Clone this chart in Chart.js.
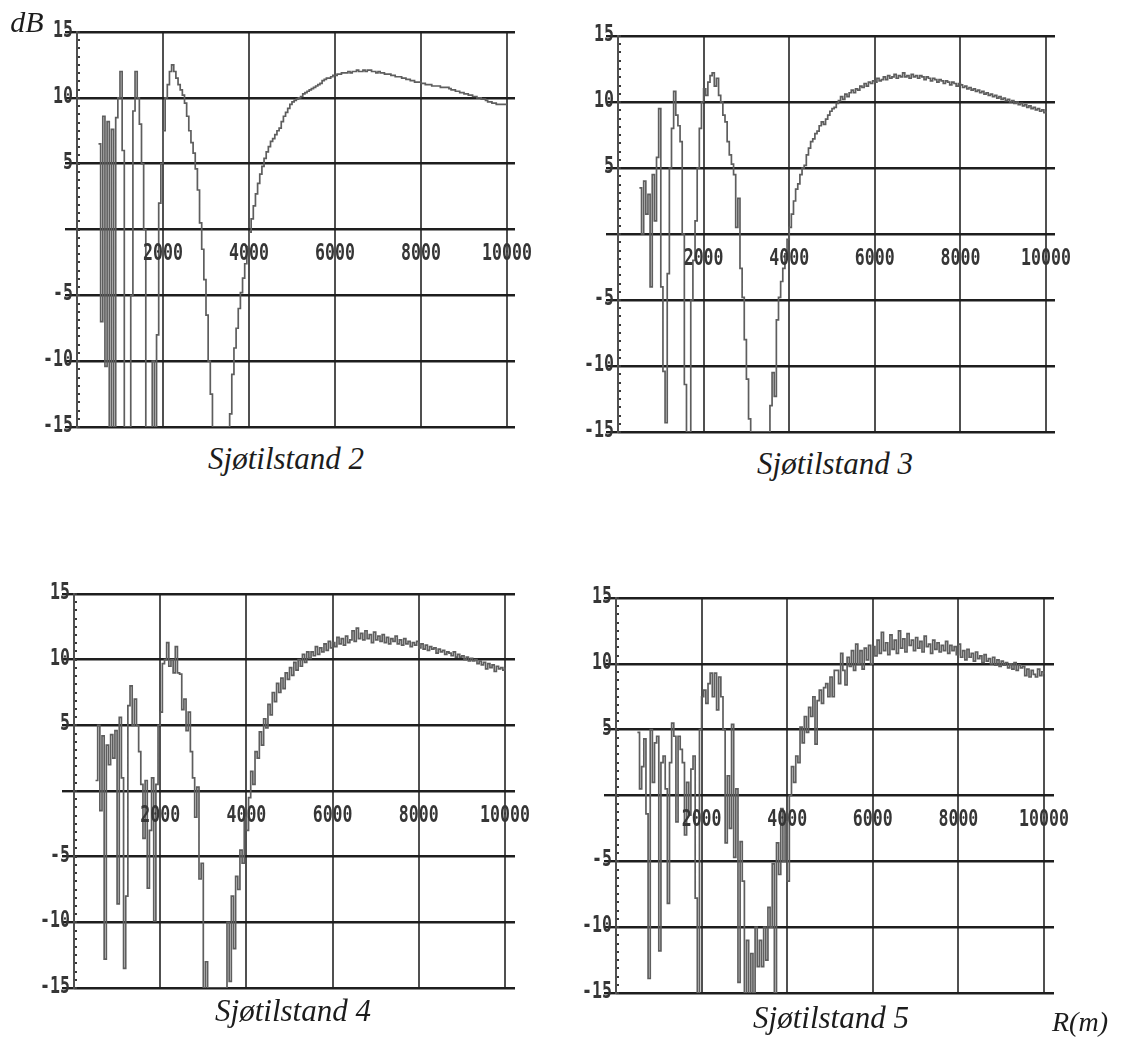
<!DOCTYPE html>
<html>
<head>
<meta charset="utf-8">
<script src="https://cdn.jsdelivr.net/npm/chart.js@4/dist/chart.umd.min.js"></script>
<style>
  html, body { margin: 0; padding: 0; background: #fff; }
  #page { position: relative; width: 1127px; height: 1037px; overflow: hidden; background: #fff; }
  canvas { position: absolute; }
  .cap { position: absolute; transform: translate(-50%, -50%); white-space: nowrap;
         font-family: "Liberation Serif", "DejaVu Serif", serif; font-style: italic; color: #1c1c1c; }
</style>
</head>
<body>
<div id="page"></div>
<script>
// Range in metres (50 m steps, 500 .. 10000)
const RANGE_M = [
  500,550,600,650,700,750,800,850,900,950,
  1000,1050,1100,1150,1200,1250,1300,1350,1400,1450,
  1500,1550,1600,1650,1700,1750,1800,1850,1900,1950,
  2000,2050,2100,2150,2200,2250,2300,2350,2400,2450,
  2500,2550,2600,2650,2700,2750,2800,2850,2900,2950,
  3000,3050,3100,3150,3200,3250,3300,3350,3400,3450,
  3500,3550,3600,3650,3700,3750,3800,3850,3900,3950,
  4000,4050,4100,4150,4200,4250,4300,4350,4400,4450,
  4500,4550,4600,4650,4700,4750,4800,4850,4900,4950,
  5000,5050,5100,5150,5200,5250,5300,5350,5400,5450,
  5500,5550,5600,5650,5700,5750,5800,5850,5900,5950,
  6000,6050,6100,6150,6200,6250,6300,6350,6400,6450,
  6500,6550,6600,6650,6700,6750,6800,6850,6900,6950,
  7000,7050,7100,7150,7200,7250,7300,7350,7400,7450,
  7500,7550,7600,7650,7700,7750,7800,7850,7900,7950,
  8000,8050,8100,8150,8200,8250,8300,8350,8400,8450,
  8500,8550,8600,8650,8700,8750,8800,8850,8900,8950,
  9000,9050,9100,9150,9200,9250,9300,9350,9400,9450,
  9500,9550,9600,9650,9700,9750,9800,9850,9900,9950,
  10000
];

// Level in dB for each sea state
const SEA_STATE_2 = [
  6.5,-7,8.6,-10.4,8.2,-15,7.6,-15,8.5,10,
  12,6,-15,-15,-15,-5,9,12,10,8,
  5,0,-15,-15,-15,-10,-15,-8,2,5,
  7.5,10,11,12,12.5,12,11.5,11,10.6,10.2,
  9.6,8.6,7.5,6.6,5.8,4.6,3,0.5,-1.5,-3.8,
  -6.5,-10,-12.5,-15,-15,-15,-15,-15,-15,-15,
  -15,-14,-11,-9,-7.5,-6,-4.8,-3.7,-2.6,-1.3,
  -0.2,0.8,1.8,2.7,3.5,4.2,4.8,5.4,5.9,6.3,
  6.7,6.9,7.2,7.5,7.7,8.2,8.6,8.9,9.2,9.5,
  9.7,9.8,9.9,10,10.1,10.3,10.4,10.5,10.6,10.7,
  10.8,10.9,11,11.1,11.3,11.4,11.5,11.5,11.6,11.7,
  11.7,11.8,11.8,11.9,11.9,11.9,12,11.9,12,12,
  12.1,12,12,12.1,12,12.1,12.1,12,12,11.9,
  12,11.9,11.9,11.8,11.8,11.8,11.7,11.7,11.6,11.6,
  11.6,11.5,11.5,11.4,11.4,11.3,11.3,11.2,11.2,11.2,
  11.1,11.1,11,11,11,10.9,10.9,10.9,10.9,10.8,
  10.8,10.8,10.8,10.7,10.6,10.6,10.5,10.5,10.4,10.4,
  10.3,10.3,10.2,10.2,10.1,10.1,10,10,9.9,9.9,
  9.8,9.7,9.7,9.6,9.6,9.5,9.5,9.5,9.5,9.5,
  9.5
];

const SEA_STATE_3 = [
  3.5,0,4,1.5,3,-4,4.5,1,5.8,9.5,
  -4,-10.4,-14.3,-3,5,8,10.8,9,8.2,7,
  0,-11.4,-15,-15,-5,-2,1,5,8,10,
  11,10.5,11.5,12,12.2,11.2,11.8,10.5,10,9,
  8.5,7,6,5.3,4.5,0.5,2.7,-2.6,-4.8,-8,
  -11,-14,-15,-15,-15,-15,-15,-15,-15,-15,
  -15,-13,-10.5,-12.3,-6.5,-4.8,-3.6,-2.6,-1.5,-0.4,
  0.5,1.5,2.5,3.4,3.8,4.5,5,5.2,6,6.5,
  7,7.2,7.6,7.8,8.2,8.5,8.3,8.7,9,9.3,
  9.5,9.6,9.9,10.1,10.4,10.2,10.6,10.4,10.7,10.9,
  10.7,11,10.9,11.2,11.1,11.4,11.2,11.5,11.4,11.6,
  11.5,11.8,11.6,11.7,11.9,11.7,12,11.8,11.9,12.1,
  11.8,12,11.9,12.2,11.9,12,11.8,12.1,11.9,12,
  11.8,12,11.9,11.7,11.9,11.8,11.6,11.8,11.7,11.5,
  11.7,11.6,11.4,11.6,11.5,11.3,11.5,11.4,11.2,11.4,
  11.3,11.1,11.2,11,11.1,10.9,11,10.8,10.9,10.7,
  10.8,10.6,10.7,10.5,10.6,10.4,10.5,10.3,10.4,10.2,
  10.3,10.1,10.2,10,10.1,9.9,10,9.8,9.9,9.7,
  9.8,9.6,9.7,9.5,9.6,9.4,9.5,9.3,9.4,9.2,
  9.3
];

const SEA_STATE_4 = [
  0.8,5,-1.5,4.2,-12.8,3.5,2,4.3,2.5,4.6,
  -8.6,5.6,1,-13.5,-8,6.5,8,5,7,5,
  3,0.5,-3.6,0.8,-7.4,-3,1,-9.9,0.5,5,
  6,9.7,10,11.3,9.5,10,9,11,9,8.9,
  6.2,7,4.6,6,3,1,-2,0.3,-6.7,-5.5,
  -15,-13,-15,-15,-15,-15,-15,-15,-15,-15,
  -15,-10,-14.5,-8,-12,-6.5,-7.5,-4.5,-5.5,-2,
  -3,-0.5,1.5,0.5,3,2.5,4.5,3.5,5.5,4.8,
  6.6,5.8,7.5,6.8,8.2,7.5,8.6,7.8,9,8.5,
  9.4,8.8,9.8,9.2,10,9.5,10.4,9.8,10.6,10.1,
  10.6,10.3,11,10.4,10.9,10.6,11.2,10.7,11.4,10.9,
  11.3,11,11.7,11.2,11.6,11.1,11.8,11.3,11.5,12.2,
  11.4,12.4,11.6,12,11.5,12.2,11.6,11.9,11.3,12.1,
  11.5,11.8,11.4,11.9,11.3,11.7,11.2,11.6,11.4,11.8,
  11.2,11.5,11.1,11.6,11.2,11.4,11,11.3,11.1,11.4,
  10.9,11.2,10.8,11.1,10.7,11,10.8,10.9,10.5,10.8,
  10.6,10.7,10.4,10.6,10.5,10.3,10.6,10.2,10.4,10.2,
  10.3,10,10.2,9.9,10.1,9.9,10,9.7,9.9,9.6,
  9.8,9.3,9.7,9.4,9.6,9.1,9.5,9.3,9.4,9.2,
  9.4
];

const SEA_STATE_5 = [
  4.8,0.5,2.2,4.3,-1.4,-13.9,5,1,4,4.5,
  -11.8,2.5,3,0.5,-8.2,2.5,5.5,4.5,-2,4.5,
  3.5,2.5,-3,1,-1.5,2,3,-7.8,-15,5,
  7.5,8,7,8.5,9.3,7.5,9.3,6.5,9,7.5,
  5,-3.6,1.5,-2.5,5.4,-4.7,0.5,-14.2,-3.5,-6.5,
  -15,-11,-15,-12,-15,-10,-13,-11,-13,-10,
  -12.5,-8.5,-10,-5.2,-15,-3.6,-6,-1,-5,-2,
  -6.5,0,2.2,1,3,2.5,5.2,4,6,4.8,
  6.7,6,7.5,3.9,7.2,8,7,8.2,8.5,7.5,
  9,7.5,9.5,9.5,8.5,10.8,9.5,8.4,10.5,9.8,
  11,9.5,11.5,10,11,9.6,11.2,10.3,11.4,10,
  11.3,10.6,11.8,10.8,12.4,11,11.6,10.7,12.2,11.1,
  11.8,10.8,12.5,11.2,11.9,10.9,12.3,11.4,11.8,11,
  12,11.2,11.7,10.9,12.1,11.3,11.5,10.8,11.8,11.1,
  11.6,10.9,11.4,11,11.7,10.8,11.4,11,11.3,10.7,
  11.5,10.5,11,10.3,11.1,10.5,10.8,10.2,10.9,10.4,
  10.6,10.1,10.7,10.2,10.4,10,10.5,9.9,10.3,9.8,
  10.2,9.9,10.1,9.7,10,9.6,10.1,9.5,9.9,9.7,
  9.8,9.1,9.6,9,9.5,9.2,9,9.6,9.1,9.4,
  9.2
];

// Axis ticks and their printed labels (0 is left unlabelled on both axes)
const X_TICKS = [0, 2000, 4000, 6000, 8000, 10000];
const X_LABELS = ['', '2000', '4000', '6000', '8000', '10000'];
const Y_TICKS = [-15, -10, -5, 0, 5, 10, 15];
const Y_LABELS = ['-15', '-10', '-5', '', '5', '10', '15'];

const TITLES = ['Sjøtilstand 2', 'Sjøtilstand 3', 'Sjøtilstand 4', 'Sjøtilstand 5'];
const SERIES = [SEA_STATE_2, SEA_STATE_3, SEA_STATE_4, SEA_STATE_5];

// Plot boxes on the page: axis left edge, right edge (grid overhang), top, bottom
const BOXES = [
  { left: 77,  right: 515,  top: 32,  bottom: 427, xMax: 10186, tx: 286, ty: 459 },
  { left: 618, right: 1055, top: 36,  bottom: 432, xMax: 10210, tx: 835, ty: 464 },
  { left: 74,  right: 515,  top: 594, bottom: 988, xMax: 10232, tx: 293, ty: 1011 },
  { left: 616, right: 1054, top: 598, bottom: 993, xMax: 10234, tx: 831, ty: 1018 }
];

const PAD_L = 60, PAD_T = 20, PAD_R = 30, PAD_B = 10, TICK_LEN = 12;

// Range axis line at R = 0, drawn under the curve
const rangeAxis = {
  id: 'rangeAxis',
  beforeDatasetsDraw(chart) {
    const { ctx, chartArea, scales } = chart;
    const px = Math.round(scales.x.getPixelForValue(0));
    ctx.save();
    ctx.fillStyle = '#505050';
    ctx.fillRect(px - 1, chartArea.top - 1, 2, chartArea.bottom - chartArea.top + 2);
    ctx.restore();
  }
};

// Plotter-style tick lettering, minor ticks on the dB axis
const plotterText = {
  id: 'plotterText',
  afterDatasetsDraw(chart) {
    const { ctx, chartArea, scales } = chart;
    const xs = scales.x, ys = scales.y;
    const ax = Math.round(xs.getPixelForValue(0));
    ctx.save();
    ctx.fillStyle = '#3a3a3a';
    for (let v = -15; v <= 15; v += 0.625) {
      const py = Math.round(ys.getPixelForValue(v));
      ctx.fillRect(ax + 1, py - 1, 2, 2);
    }
    ctx.font = 'bold 23px "DejaVu Sans Mono", "Liberation Mono", monospace';
    ctx.fillStyle = '#363636';
    ctx.textBaseline = 'middle';
    Y_TICKS.forEach((v, k) => {
      if (!Y_LABELS[k]) return;
      ctx.save();
      ctx.translate(ax - 4, ys.getPixelForValue(v) - 1);
      ctx.scale(0.72, 1);
      ctx.textAlign = 'right';
      ctx.fillText(Y_LABELS[k], 0, 0);
      ctx.restore();
    });
    const ly = ys.getPixelForValue(0) + 25;
    X_TICKS.forEach((v, k) => {
      if (!X_LABELS[k]) return;
      ctx.save();
      ctx.translate(xs.getPixelForValue(v), ly);
      ctx.scale(0.72, 1);
      ctx.textAlign = 'center';
      ctx.fillText(X_LABELS[k], 0, 0);
      ctx.restore();
    });
    ctx.restore();
  }
};

const page = document.getElementById('page');

BOXES.forEach((b, n) => {
  const w = (b.right - b.left) + TICK_LEN + PAD_L + PAD_R;
  const h = (b.bottom - b.top) + PAD_T + PAD_B;
  const cv = document.createElement('canvas');
  cv.width = w; cv.height = h;
  cv.style.width = w + 'px'; cv.style.height = h + 'px';
  cv.style.left = (b.left - TICK_LEN - PAD_L) + 'px';
  cv.style.top = (b.top - PAD_T) + 'px';
  page.appendChild(cv);

  const vals = SERIES[n];
  new Chart(cv.getContext('2d'), {
    type: 'line',
    data: {
      datasets: [{
        data: RANGE_M.map((r, i) => ({ x: r, y: vals[i] })),
        borderColor: '#5e5e5e',
        borderWidth: 1.7,
        pointRadius: 0,
        stepped: true,
        fill: false
      }]
    },
    options: {
      responsive: false,
      devicePixelRatio: 1,
      animation: false,
      events: [],
      layout: { padding: { left: PAD_L, top: PAD_T, right: PAD_R, bottom: PAD_B } },
      plugins: { legend: { display: false }, tooltip: { enabled: false } },
      scales: {
        x: {
          type: 'linear', min: 0, max: b.xMax,
          afterBuildTicks: s => { s.ticks = X_TICKS.map(v => ({ value: v })); },
          ticks: { display: false },
          grid: { color: '#505050', lineWidth: 2, drawTicks: false },
          border: { display: false }
        },
        y: {
          type: 'linear', min: -15, max: 15,
          afterBuildTicks: s => { s.ticks = Y_TICKS.map(v => ({ value: v })); },
          ticks: { display: false },
          grid: { color: '#1e1e1e', lineWidth: 2.4, drawTicks: true, tickLength: TICK_LEN },
          border: { display: false }
        }
      }
    },
    plugins: [rangeAxis, plotterText]
  });

  const t = document.createElement('div');
  t.className = 'cap';
  t.style.left = b.tx + 'px';
  t.style.top = b.ty + 'px';
  t.style.fontSize = '31px';
  t.textContent = TITLES[n];
  page.appendChild(t);
});

const unitY = document.createElement('div');
unitY.className = 'cap';
unitY.style.left = '27px'; unitY.style.top = '22px'; unitY.style.fontSize = '30px';
unitY.textContent = 'dB';
page.appendChild(unitY);

const unitX = document.createElement('div');
unitX.className = 'cap';
unitX.style.left = '1080px'; unitX.style.top = '1022px'; unitX.style.fontSize = '28px';
unitX.textContent = 'R(m)';
page.appendChild(unitX);
</script>
</body>
</html>
